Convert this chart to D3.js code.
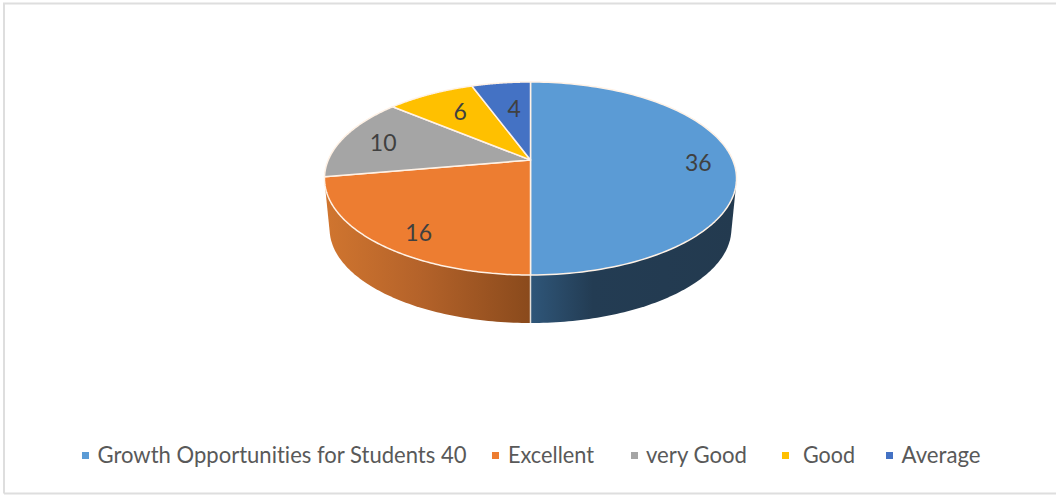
<!DOCTYPE html>
<html>
<head>
<meta charset="utf-8">
<style>html,body{margin:0;padding:0;background:#fff}svg{display:block}text{font-variant-ligatures:none}</style>
<script src="https://cdn.jsdelivr.net/npm/d3@7/dist/d3.min.js"></script>
</head>
<body>
<svg id="c" width="1056" height="495"></svg>
<script>
// Data
const categories = ["Growth Opportunities for Students 40", "Excellent", "very Good", "Good", "Average"];
const values = [36, 16, 10, 6, 4];
const colors = ["#5b9bd5", "#ed7d31", "#a5a5a5", "#ffc000", "#4472c4"];

// Layout
const W = 1056, H = 495;
const cx = 530.5, apexY = 160, A = 202.2, B = 92.95, k = 0.1917;
const floorScale = 0.975, floorY = 210.9;
const labelNudge = [[0, 2], [6, 7], [3, 0.5], [12, 5], [8, 12]];
const labelRadii = [0.83, 0.8, 0.8, 0.8, 0.8];
const legendSwatchX = [82, 492, 631, 782, 886];
const legendTextX = [97.5, 508, 646, 803, 901.5];
const legendTextW = [369, 86, 101, 52, 79];
const fontFamily = "Lato, 'Open Sans', sans-serif";

const svg = d3.select("#c");
const defs = svg.append("defs");
const gradL = defs.append("linearGradient").attr("id", "sideL").attr("gradientUnits", "userSpaceOnUse")
  .attr("x1", 326).attr("x2", 530).attr("y1", 0).attr("y2", 0);
gradL.append("stop").attr("offset", 0).attr("stop-color", "#d0752f");
gradL.append("stop").attr("offset", 0.45).attr("stop-color", "#b5632a");
gradL.append("stop").attr("offset", 1).attr("stop-color", "#8a4a1c");
const gradR = defs.append("linearGradient").attr("id", "sideR").attr("gradientUnits", "userSpaceOnUse")
  .attr("x1", 531).attr("x2", 737).attr("y1", 0).attr("y2", 0);
gradR.append("stop").attr("offset", 0).attr("stop-color", "#2f5679");
gradR.append("stop").attr("offset", 0.3).attr("stop-color", "#233c53");
gradR.append("stop").attr("offset", 1).attr("stop-color", "#233a4f");

// Frame
const frame = svg.append("g").attr("stroke", "#dedede").attr("stroke-width", 2).attr("fill", "none");
frame.append("path").attr("d", `M4,${H - 1.5}V3.5H${W}`);
frame.append("path").attr("d", `M4,${H - 1.5}H${W}`);

// Perspective projection of the unit disc (angle clockwise from 12 o'clock)
function project(theta, r = 1) {
  const u = r * Math.sin(theta), v = -r * Math.cos(theta), d = 1 - k * v;
  return [cx + A * u / d, apexY + B * v / d];
}
function projectFloor(theta) {
  const u = Math.sin(theta), v = -Math.cos(theta), d = 1 - k * v;
  return [cx + floorScale * A * u / d, floorY + floorScale * B * v / d];
}
const arcPts = (a0, a1, f) => d3.range(0, 121).map(i => f(a0 + (a1 - a0) * i / 120));
const line = d3.line();

const pie = d3.pie().sort(null).value(d => d)(values);

// Side wall, drawn from the two slices that face the viewer
const rad = Math.PI / 180;
const wallR = d3.polygonHull([...arcPts(pie[0].startAngle + 60 * rad, pie[0].endAngle, project), ...arcPts(pie[0].startAngle + 60 * rad, pie[0].endAngle, projectFloor)]);
const wallL = d3.polygonHull([...arcPts(pie[1].startAngle, pie[1].endAngle + 40 * rad, project), ...arcPts(pie[1].startAngle, pie[1].endAngle + 40 * rad, projectFloor)]);
svg.append("path").attr("d", line(wallL) + "Z").attr("fill", "url(#sideL)");
svg.append("path").attr("d", line(wallR) + "Z").attr("fill", "url(#sideR)");
svg.append("path")
  .attr("d", line([project(pie[0].endAngle), projectFloor(pie[0].endAngle)]))
  .attr("stroke", "#e6e0da").attr("stroke-width", 1.5).attr("fill", "none");

// Top surface
svg.append("g").selectAll("path").data(pie).join("path")
  .attr("d", d => line([[cx, apexY], ...arcPts(d.startAngle, d.endAngle, project)]) + "Z")
  .attr("fill", (d, i) => colors[i])
  .attr("stroke", "#fff2e6").attr("stroke-width", 1.5).attr("stroke-linejoin", "round");

// Data labels
svg.append("g").selectAll("text").data(pie).join("text")
  .attr("x", (d, i) => project((d.startAngle + d.endAngle) / 2, labelRadii[i])[0] + labelNudge[i][0])
  .attr("y", (d, i) => project((d.startAngle + d.endAngle) / 2, labelRadii[i])[1] + labelNudge[i][1])
  .attr("text-anchor", "middle").attr("dominant-baseline", "central")
  .attr("font-family", fontFamily).attr("font-size", 23)
  .attr("fill", "#404040")
  .text(d => d.data);

// Legend
const legend = svg.append("g").selectAll("g").data(categories).join("g");
legend.append("rect")
  .attr("x", (d, i) => legendSwatchX[i]).attr("y", 452).attr("width", 7).attr("height", 7)
  .attr("fill", (d, i) => colors[i]);
legend.append("text")
  .attr("x", (d, i) => legendTextX[i]).attr("y", 463)
  .attr("textLength", (d, i) => legendTextW[i]).attr("lengthAdjust", "spacingAndGlyphs")
  .attr("font-family", fontFamily).attr("font-size", 23)
  .attr("fill", "#595959")
  .text(d => d);
</script>
</body>
</html>
